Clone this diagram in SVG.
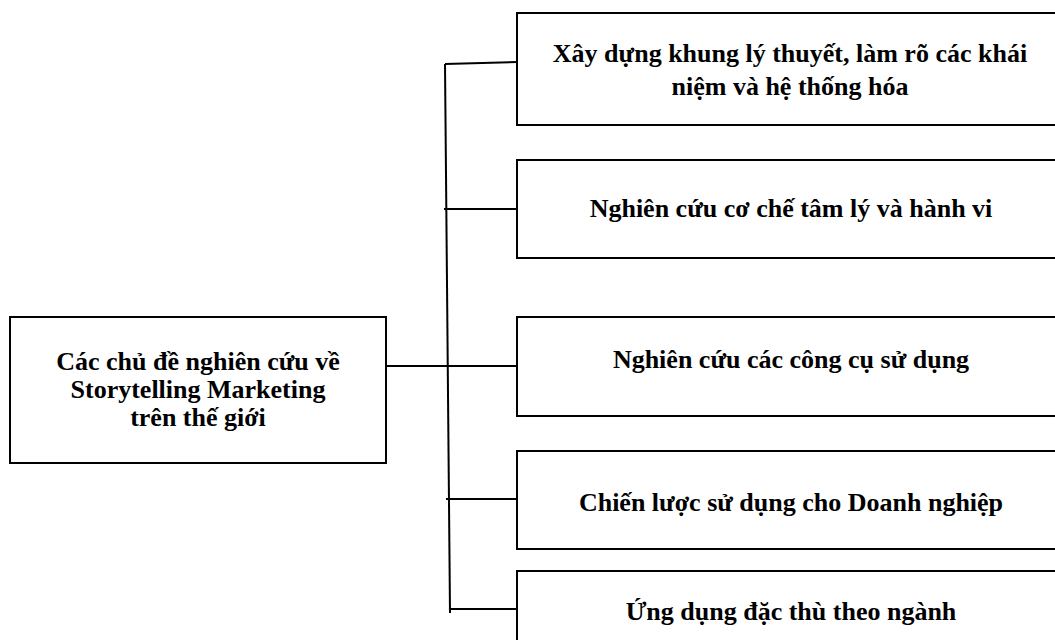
<svg xmlns="http://www.w3.org/2000/svg" width="1055" height="640" viewBox="0 0 1055 640">
<style>
.box{fill:#fff;stroke:#000;stroke-width:2}
.t{font-family:"Liberation Serif","Times New Roman",serif;font-weight:bold;font-size:26px;fill:#000;text-anchor:middle}
.c{stroke:#000;stroke-width:2;fill:none}
</style>
<rect width="1055" height="640" fill="#fff"/>
<g id="connectors">
<path class="c" d="M445 64 L450 613"/>
<path class="c" d="M445 64 L517 62"/>
<path class="c" d="M444 209 L517 209"/>
<path class="c" d="M386 366 L517 366"/>
<path class="c" d="M446 499 L517 499"/>
<path class="c" d="M450 609 L517 609"/>
</g>
<g id="root">
<rect class="box" x="10" y="317" width="376" height="146"/>
<text class="t" x="198" y="370">Các chủ đề nghiên cứu về</text>
<text class="t" x="198" y="398">Storytelling Marketing</text>
<text class="t" x="198" y="426">trên thế giới</text>
</g>
<g id="n1">
<rect class="box" x="517" y="13" width="560" height="112"/>
<text class="t" x="790" y="62">Xây dựng khung lý thuyết, làm rõ các khái</text>
<text class="t" x="790" y="95">niệm và hệ thống hóa</text>
</g>
<g id="n2">
<rect class="box" x="517" y="160" width="560" height="98"/>
<text class="t" x="791" y="217">Nghiên cứu cơ chế tâm lý và hành vi</text>
</g>
<g id="n3">
<rect class="box" x="517" y="317" width="560" height="99"/>
<text class="t" x="791" y="368">Nghiên cứu các công cụ sử dụng</text>
</g>
<g id="n4">
<rect class="box" x="517" y="451" width="560" height="98"/>
<text class="t" x="791" y="511">Chiến lược sử dụng cho Doanh nghiệp</text>
</g>
<g id="n5">
<rect class="box" x="517" y="571" width="560" height="100"/>
<text class="t" x="791" y="620">Ứng dụng đặc thù theo ngành</text>
</g>
</svg>
